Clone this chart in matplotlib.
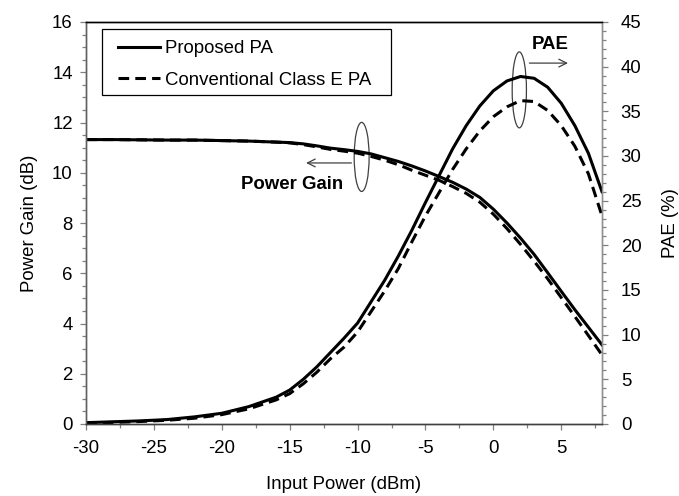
import matplotlib.pyplot as plt
from matplotlib.patches import Ellipse, Rectangle
from matplotlib.ticker import MultipleLocator

plt.rcParams["font.family"] = ["Liberation Sans", "DejaVu Sans"]
plt.rcParams["axes.unicode_minus"] = False

# input power sweep (dBm)
pin = [-30, -28, -26, -24, -22, -20, -18, -16, -15, -14, -13, -12, -11, -10,
       -9, -8, -7, -6, -5, -4, -3, -2, -1, 0, 1, 2, 3, 4, 5, 6, 7, 8]

# power gain (dB)
gain_prop = [11.32, 11.32, 11.31, 11.30, 11.30, 11.28, 11.26, 11.22, 11.20,
             11.15, 11.07, 10.98, 10.92, 10.85, 10.75, 10.60, 10.45, 10.27,
             10.07, 9.85, 9.62, 9.35, 9.02, 8.55, 8.00, 7.40, 6.75, 6.02,
             5.28, 4.55, 3.85, 3.15]
gain_conv = [11.32, 11.32, 11.31, 11.30, 11.30, 11.28, 11.26, 11.22, 11.19,
             11.12, 11.03, 10.93, 10.86, 10.78, 10.65, 10.50, 10.32, 10.10,
             9.90, 9.70, 9.45, 9.18, 8.83, 8.35, 7.78, 7.15, 6.48, 5.78,
             5.03, 4.28, 3.52, 2.75]

# power added efficiency (%)
pae_prop = [0.15, 0.25, 0.35, 0.5, 0.8, 1.2, 1.95, 3.0, 3.8, 5.0, 6.4, 8.0,
            9.6, 11.3, 13.7, 16.1, 18.8, 21.7, 24.8, 27.8, 30.8, 33.4, 35.6,
            37.3, 38.4, 38.9, 38.7, 37.7, 35.9, 33.4, 30.3, 26.0]
pae_conv = [0.1, 0.18, 0.28, 0.42, 0.65, 1.05, 1.7, 2.7, 3.4, 4.5, 5.8, 7.3,
            8.6, 10.3, 12.6, 14.9, 17.4, 20.4, 23.3, 25.9, 28.5, 30.8, 32.8,
            34.4, 35.5, 36.2, 36.1, 35.1, 33.4, 31.1, 28.0, 23.3]

fig = plt.figure(figsize=(6.79, 4.96), dpi=100)
fig.subplots_adjust(left=86 / 679, right=602 / 679, top=1 - 22 / 496,
                    bottom=1 - 424 / 496)
ax1 = fig.add_subplot(111)
ax2 = ax1.twinx()

lw = 2.2
dash = (3.5, 2.0)
l1, = ax1.plot(pin, gain_prop, color="black", lw=lw, label="Proposed PA")
l2, = ax1.plot(pin, gain_conv, color="black", lw=lw, ls="--", dashes=dash,
               label="Conventional Class E PA")
ax2.plot(pin, pae_prop, color="black", lw=lw)
ax2.plot(pin, pae_conv, color="black", lw=lw, ls="--", dashes=dash)

ax1.set_xlim(-30, 8)
ax1.set_ylim(0, 16)
ax2.set_ylim(0, 45)

ax1.xaxis.set_major_locator(MultipleLocator(5))
ax1.xaxis.set_minor_locator(MultipleLocator(2.5))
ax1.yaxis.set_major_locator(MultipleLocator(2))
ax1.yaxis.set_minor_locator(MultipleLocator(0.5))
ax2.yaxis.set_major_locator(MultipleLocator(5))
ax2.yaxis.set_minor_locator(MultipleLocator(1))

fs = 13.4
for ax in (ax1, ax2):
    ax.tick_params(which="both", direction="out", labelsize=fs,
                   color="#808080", width=0.9)
    ax.tick_params(which="major", length=4.5, pad=5)
    ax.tick_params(which="minor", length=3)
    for s in ax.spines.values():
        s.set_linewidth(1.0)
    ax.spines["left"].set_color("#606060")
    ax.spines["right"].set_color("#909090")
    ax.spines["bottom"].set_color("#404040")
    ax.spines["top"].set_color("black")
ax1.tick_params(axis="x", pad=7)
ax2.tick_params(axis="y", pad=9)

ax1.set_xlabel("Input Power (dBm)", fontsize=fs, labelpad=14)
ax1.set_ylabel("Power Gain (dB)", fontsize=fs, labelpad=10)
ax2.set_ylabel("PAE (%)", fontsize=fs, labelpad=15)

# ellipse + arrow markers pointing each curve pair to its axis
ax1.add_patch(Ellipse((-9.7, 10.63), 1.1, 2.75, fill=False, ec="#404040",
                      lw=0.9))
ax1.annotate("", xy=(-14.0, 10.39), xytext=(-10.25, 10.39),
             arrowprops=dict(arrowstyle="->", color="#404040", lw=0.9,
                             mutation_scale=14))
ax1.text(-14.8, 9.55, "Power Gain", fontsize=fs, fontweight="bold",
         ha="center", va="center")

ax2.add_patch(Ellipse((1.91, 37.4), 1.05, 8.5, fill=False, ec="#404040",
                      lw=0.9))
ax2.annotate("", xy=(5.7, 40.4), xytext=(2.45, 40.4),
             arrowprops=dict(arrowstyle="->", color="#404040", lw=0.9,
                             mutation_scale=14))
ax2.text(4.19, 42.5, "PAE", fontsize=fs, fontweight="bold",
         ha="center", va="center")

# legend entries without frame, box drawn separately
leg = ax1.legend(handles=[l1, l2], loc="upper left",
                 bbox_to_anchor=(0.062, 0.955), borderaxespad=0,
                 borderpad=0, fontsize=fs, handlelength=2.25,
                 labelspacing=0.78, handletextpad=0.3, frameon=False)
ax1.add_patch(Rectangle((0.031, 0.818), 0.560, 0.164, transform=ax1.transAxes,
                        fill=False, ec="black", lw=0.9, clip_on=False))

fig.savefig("out.png", dpi=100)
